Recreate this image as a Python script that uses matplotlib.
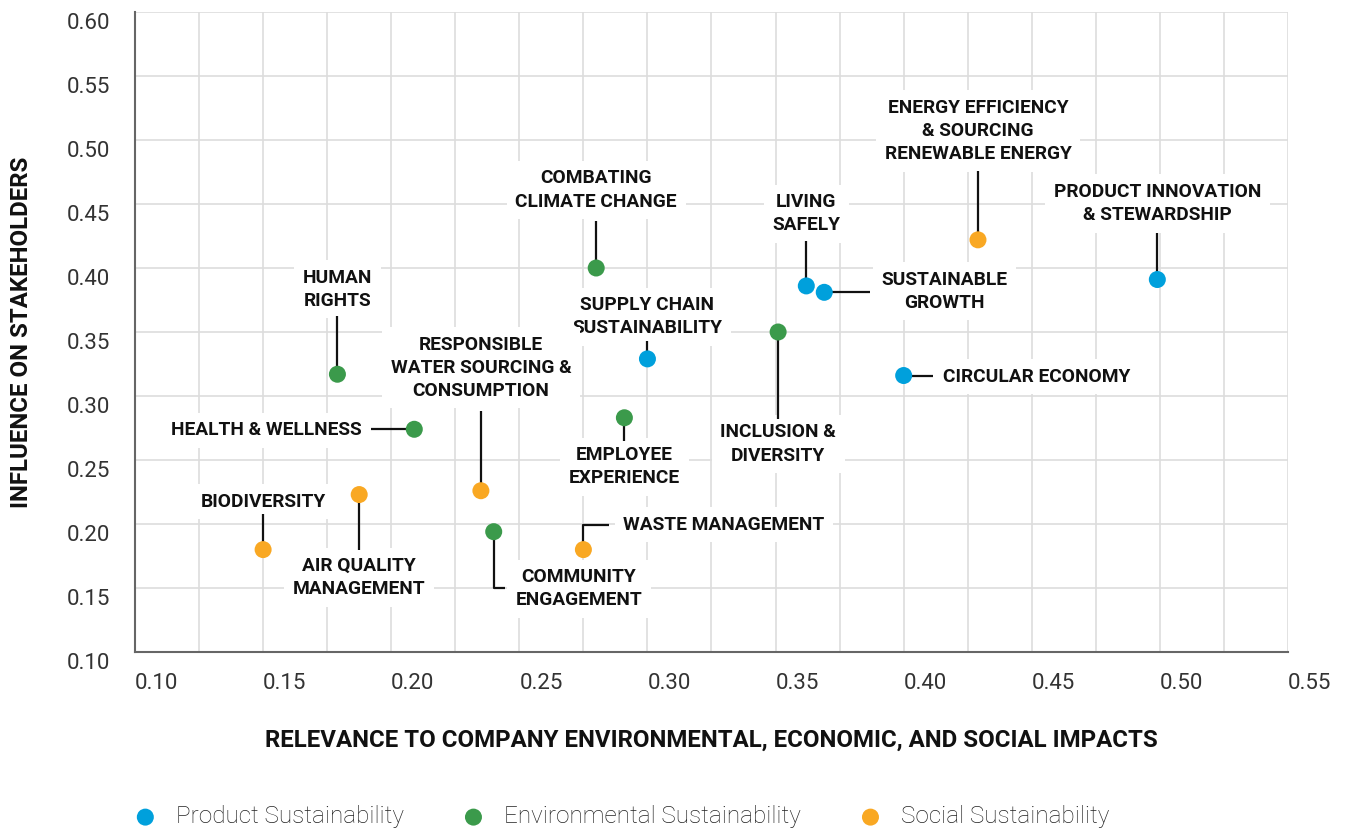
import numpy as np
import matplotlib.pyplot as plt
from matplotlib.transforms import ScaledTranslation

plt.rcParams['font.family'] = ['Roboto', 'DejaVu Sans']

# Kategori dan warna
categories = ['Product Sustainability', 'Environmental Sustainability', 'Social Sustainability']
cat_colors = ['#00A0DC', '#3B9A4B', '#F9A823']

# Data topik material
topics = ['LIVING\nSAFELY', 'SUSTAINABLE\nGROWTH', 'SUPPLY CHAIN\nSUSTAINABILITY', 'CIRCULAR ECONOMY',
          'PRODUCT INNOVATION\n& STEWARDSHIP',
          'COMBATING\nCLIMATE CHANGE', 'HUMAN\nRIGHTS', 'HEALTH & WELLNESS', 'EMPLOYEE\nEXPERIENCE',
          'INCLUSION &\nDIVERSITY', 'COMMUNITY\nENGAGEMENT',
          'ENERGY EFFICIENCY\n& SOURCING\nRENEWABLE ENERGY', 'RESPONSIBLE\nWATER SOURCING &\nCONSUMPTION',
          'AIR QUALITY\nMANAGEMENT', 'BIODIVERSITY', 'WASTE MANAGEMENT']
relevance = [0.362, 0.369, 0.300, 0.400, 0.499,
             0.280, 0.179, 0.209, 0.291, 0.351, 0.240,
             0.429, 0.235, 0.1875, 0.150, 0.275]
influence = [0.386, 0.381, 0.329, 0.316, 0.391,
             0.400, 0.317, 0.274, 0.283, 0.350, 0.194,
             0.422, 0.226, 0.223, 0.180, 0.180]
topic_cat = [0, 0, 0, 0, 0,
             1, 1, 1, 1, 1, 1,
             2, 2, 2, 2, 2]

# Posisi label (offset piksel dari titik) dan garis penunjuk
label_pos = [(0, 72, 'center'), (57, 1, 'left'), (0, 42, 'center'), (39, -1, 'left'), (0, 76, 'center'),
             (0, 78, 'center'), (0, 85, 'center'), (-53, -1, 'right'), (0, -49, 'center'),
             (0, -112, 'center'), (85, -57, 'center'),
             (0, 109, 'center'), (0, 123, 'center'), (0, -83, 'center'), (0, 48, 'center'), (40, 25, 'left')]
leaders = [[(0, 0), (0, 45)], [(0, 0), (46, 0)], [(0, 0), (0, 18)], [(0, 0), (29, 0)], [(0, 0), (0, 47)],
           [(0, 0), (0, 47)], [(0, 0), (0, 58)], [(0, 0), (-43, 0)], [(0, 0), (0, -23)],
           [(0, 0), (0, -87)], [(0, 0), (0, -56), (11, -56)],
           [(0, 0), (0, 69)], [(0, 0), (0, 80)], [(0, 0), (0, -55)], [(0, 0), (0, 36)],
           [(0, 0), (0, 25), (26, 25)]]

fig = plt.figure(figsize=(13.45, 8.32), dpi=100)
ax = fig.add_axes([135 / 1345, (832 - 652) / 832, (1288 - 135) / 1345, (652 - 12) / 832])
ax.set_xlim(0.10, 0.55)
ax.set_ylim(0.10, 0.60)

ax.set_xticks(np.arange(0.10, 0.551, 0.05))
ax.set_xticks(np.arange(0.125, 0.55, 0.05), minor=True)
ax.set_yticks(np.arange(0.10, 0.601, 0.05))
ax.set_xticklabels([f'{v:.2f}' for v in np.arange(0.10, 0.551, 0.05)])
ax.set_yticklabels([f'{v:.2f}' for v in np.arange(0.10, 0.601, 0.05)])
ax.tick_params(axis='both', which='both', length=0, labelsize=16, labelcolor='#333333')
ax.tick_params(axis='x', pad=15)
ax.tick_params(axis='y', pad=18)
for lbl in ax.get_xticklabels():
    lbl.set_horizontalalignment('left')
for lbl in ax.get_yticklabels():
    lbl.set_transform(lbl.get_transform() + ScaledTranslation(0, -9 / 100, fig.dpi_scale_trans))

ax.grid(True, which='both', axis='x', color='#DDDDDD', linewidth=1.2)
ax.grid(True, which='major', axis='y', color='#DDDDDD', linewidth=1.2)
ax.set_axisbelow(True)
for s in ['top', 'right']:
    ax.spines[s].set_visible(False)
for s in ['left', 'bottom']:
    ax.spines[s].set_color('#666666')
    ax.spines[s].set_linewidth(1.5)

ax.set_xlabel('RELEVANCE TO COMPANY ENVIRONMENTAL, ECONOMIC, AND SOCIAL IMPACTS',
              fontsize=17.3, fontweight='bold', color='#111111')
ax.xaxis.set_label_coords(0.5, -(729 - 652) / 640)
ax.set_ylabel('INFLUENCE ON STAKEHOLDERS', fontsize=17.3, fontweight='bold', color='#111111')
ax.yaxis.set_label_coords(-(135 - 33) / 1153, 0.5)

# Titik per kategori
for ci, cat in enumerate(categories):
    xs = [relevance[i] for i in range(len(topics)) if topic_cat[i] == ci]
    ys = [influence[i] for i in range(len(topics)) if topic_cat[i] == ci]
    ax.scatter(xs, ys, s=150, color=cat_colors[ci], edgecolors='none', zorder=6, label=cat)

# Label dan garis penunjuk
inv = ax.transData.inverted()
for i, name in enumerate(topics):
    px, py = ax.transData.transform((relevance[i], influence[i]))
    dx, dy, ha = label_pos[i]
    ax.annotate(name, xy=(relevance[i], influence[i]), xytext=(dx, dy), textcoords='offset pixels',
                ha=ha, va='center', multialignment='center', fontsize=13.8, fontweight='bold',
                color='#111111', linespacing=1.36, zorder=3,
                bbox=dict(boxstyle='square,pad=0.45', fc='white', ec='none'))
    verts = inv.transform([(px + a, py + b) for a, b in leaders[i]])
    ax.plot(verts[:, 0], verts[:, 1], color='#111111', linewidth=1.6, zorder=5,
            solid_capstyle='butt')

leg = fig.legend(loc='center left', bbox_to_anchor=(135.6 / 1345, 1 - 817 / 832), ncol=3, frameon=False,
                 fontsize=17.5, handlelength=0.8, handletextpad=0.87, columnspacing=2.45,
                 borderpad=0, borderaxespad=0, markerscale=1.0)
for t in leg.get_texts():
    t.set_fontweight('light')
    t.set_color('#222222')

fig.savefig('out.png', dpi=100)
